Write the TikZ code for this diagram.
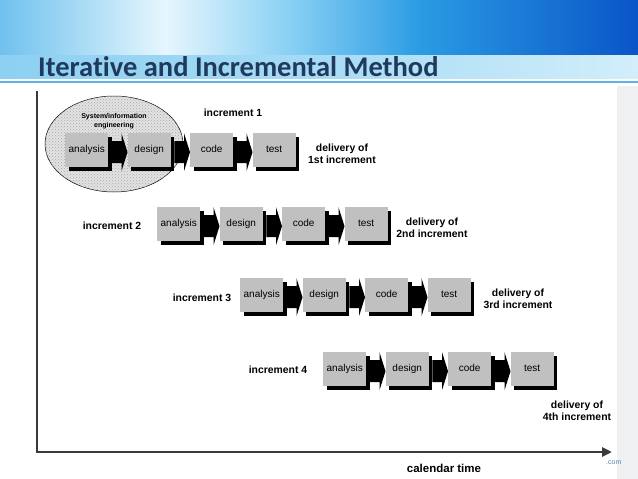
\documentclass[tikz,border=0pt]{standalone}
\usepackage{fontspec}
\setmainfont{Liberation Sans}
\newfontfamily\titlefont[Ligatures={NoCommon,NoDiscretionary,NoContextual}]{Carlito}
\usetikzlibrary{shapes.geometric,arrows.meta,calc,patterns,shadows}
\definecolor{tb0}{HTML}{6FC1EE}
\definecolor{tb1}{HTML}{E6F6FD}
\definecolor{tb2}{HTML}{86CFF3}
\definecolor{tb3}{HTML}{2A9BE3}
\definecolor{tb4}{HTML}{0A55C8}
\definecolor{tt0}{HTML}{8DD0F2}
\definecolor{tt1}{HTML}{A6DBF5}
\definecolor{tt2}{HTML}{D2EEFA}
\definecolor{titlecol}{HTML}{1F3A5C}
\definecolor{sepcol}{HTML}{5CB3E6}
\definecolor{boxgray}{HTML}{C0C0C0}
\definecolor{axiscol}{HTML}{3A3A3A}
\definecolor{stripgray}{HTML}{EEF0F1}
\definecolor{comcol}{HTML}{5A8AB0}
\pgfdeclarehorizontalshading{topband}{100bp}{color(0bp)=(tb0); color(25bp)=(tb0); color(38bp)=(tb1); color(48bp)=(tb2); color(58bp)=(tb3); color(75bp)=(tb4); color(100bp)=(tb4)}
\pgfdeclarehorizontalshading{titleband}{100bp}{color(0bp)=(tt0); color(25bp)=(tt0); color(50bp)=(tt1); color(75bp)=(tt2); color(100bp)=(tt2)}
\tikzset{
  stepbox/.style={fill=boxgray, minimum width=43pt, minimum height=34pt, inner sep=0pt,
    text height=7.5pt, text depth=2pt,
    anchor=north west, font=\fontsize{10}{12}\selectfont,
    drop shadow={shadow xshift=3.5pt, shadow yshift=-4pt, fill=black, opacity=1}},
  lbl/.style={font=\bfseries\fontsize{10.4}{12.5}\selectfont, align=center, inner sep=0pt},
  axisline/.style={draw=axiscol, line width=2.5pt},
}
\newcommand\blkarrow[2]{%
  \fill ($(#1.east)+(3.5,-9)$) -- ($(#2.west)+(-6,-9)$) -- ($(#2.west)+(-6,-17)$) --
        ($(#2.west)+(0,2)$) -- ($(#2.west)+(-6,21)$) -- ($(#2.west)+(-6,13)$) --
        ($(#1.east)+(3.5,13)$) -- cycle;}
\begin{document}
\begin{tikzpicture}[x=1pt,y=-1pt]
\useasboundingbox (0,0) rectangle (638,479);
% slide background
\fill[white] (0,0) rectangle (638,479);
\shade[shading=topband] (0,0) rectangle (638,55);
\shade[shading=titleband] (0,55) rectangle (638,79);
\fill[white] (0,79) rectangle (638,81);
\fill[sepcol] (0,81) rectangle (638,83);
\fill[stripgray] (617,86) rectangle (638,479);
\node[font=\titlefont\bfseries\fontsize{28.5}{30}\selectfont, text=titlecol, anchor=base west, inner sep=0pt] (title) at (38,76) {Iterative and Incremental Method};
\node[font=\fontsize{7}{8}\selectfont, text=comcol, anchor=west, inner sep=0pt] (com) at (606,463) {.com};
% ellipse
\node[draw=black, line width=0.5pt, ellipse, minimum width=138pt, minimum height=96pt, inner sep=0pt,
  fill=gray!22, postaction={pattern=crosshatch dots, pattern color=gray!70}] (sie) at (114,144) {};
\node[font=\bfseries\fontsize{7}{9}\selectfont, align=center, inner sep=0pt] (sietext) at (114,121) {System/information\\engineering};
% boxes
\foreach \r/\x/\y in {1/65/133, 2/157/207, 3/240/278, 4/323/352}{
  \foreach \t [count=\i from 0] in {analysis,design,code,test}{
    \node[stepbox] (b\r\i) at (\x+62.5*\i,\y) {\t};
  }
}
\foreach \r in {1,2,3,4}{
  \foreach \i/\j in {0/1,1/2,2/3}{
    \blkarrow{b\r\i}{b\r\j}
  }
}
% labels
\node[lbl] (inc1) at (233,113) {increment 1};
\node[lbl] (inc2) at (112,226) {increment 2};
\node[lbl] (inc3) at (202,298) {increment 3};
\node[lbl] (inc4) at (278,370) {increment 4};
\node[lbl] (del1) at (342,154) {delivery of\\1st increment};
\node[lbl] (del2) at (432,228) {delivery of\\2nd increment};
\node[lbl] (del3) at (518,299) {delivery of\\3rd increment};
\node[lbl] (del4) at (577,411) {delivery of\\4th increment};
% axes
\coordinate (atop) at (37,91);
\coordinate (aorig) at (37,452);
\coordinate (aend) at (612,452);
\draw[axisline, -{Triangle[length=10pt,width=9pt]}] (atop) -- (aorig) -- (aend);
\node[lbl, font=\bfseries\fontsize{11.5}{13}\selectfont] (cal) at (444,468) {calendar time};
\end{tikzpicture}
\end{document}
